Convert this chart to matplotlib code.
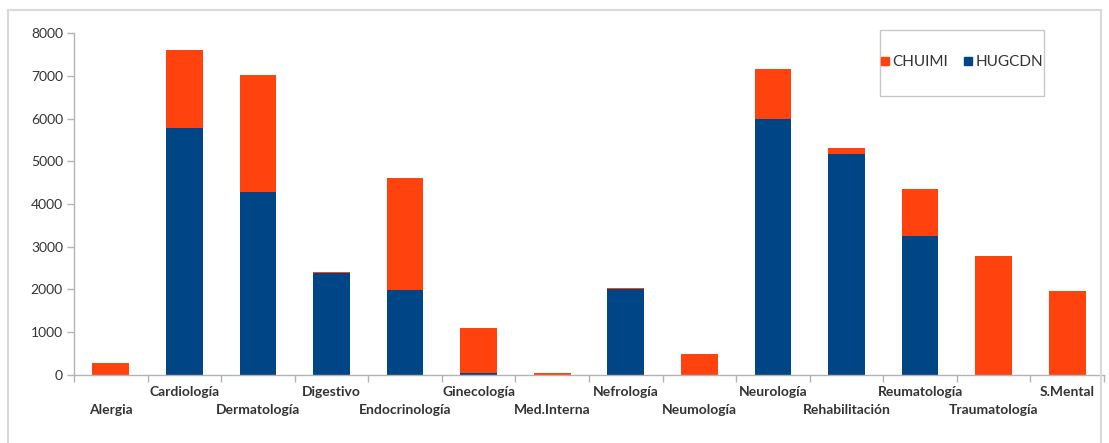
import numpy as np
import matplotlib; matplotlib.use('Agg')
import matplotlib.pyplot as plt
from matplotlib.patches import Rectangle
from matplotlib.lines import Line2D

# ── data ──
categories = ['Alergia', 'Cardiología', 'Dermatología', 'Digestivo', 'Endocrinología',
              'Ginecología', 'Med.Interna', 'Nefrología', 'Neumología', 'Neurología',
              'Rehabilitación', 'Reumatología', 'Traumatología', 'S.Mental']
hugcdn = [0, 5770, 4280, 2380, 1980, 50, 0, 2000, 0, 6000, 5160, 3260, 0, 0]
chuimi = [280, 1840, 2750, 30, 2630, 1050, 30, 30, 485, 1160, 160, 1090, 2790, 1960]

ORANGE = '#ff420e'
BLUE = '#004586'
GRID = '#b3b3b3'

plt.rcParams.update({'font.family': ['Lato', 'DejaVu Sans'], 'font.size': 10})

fig = plt.figure(figsize=(11.09, 4.43), dpi=100)
fig.patch.set_facecolor('white')
ax = fig.add_axes([74/1109, 1-374.7/443, 1030/1109, 341.4/443])

x = np.arange(len(categories))
ax.bar(x, hugcdn, width=0.5, color=BLUE, zorder=2)
ax.bar(x, chuimi, width=0.5, bottom=hugcdn, color=ORANGE, zorder=2)

ax.set_xlim(-0.5, len(categories) - 0.5)
ax.set_ylim(0, 8000)
ax.set_yticks(np.arange(0, 8001, 1000))

# ticks at the category boundaries, staggered labels at the centres
ax.set_xticks(np.arange(-0.5, len(categories)))
ax.set_xticklabels([])
ax.tick_params(axis='x', length=5, color=GRID, width=1)
ax.tick_params(axis='y', length=5, color=GRID, width=1, pad=3, labelcolor='#333333')
for i, c in enumerate(categories):
    off = -25.2 if i % 2 == 0 else -12.2
    ax.annotate(c, (i, 0), xycoords=('data', 'axes fraction'), xytext=(0, off),
                textcoords='offset points', ha='center', va='center',
                fontweight='bold', color='#333333', fontsize=10)

for s in ['top', 'right']:
    ax.spines[s].set_visible(False)
for s in ['left', 'bottom']:
    ax.spines[s].set_color(GRID); ax.spines[s].set_linewidth(1)

# legend in a separate box
handles = [Line2D([], [], ls='none', marker='s', ms=5.5, color=ORANGE),
           Line2D([], [], ls='none', marker='s', ms=5.5, color=BLUE)]
fig.legend(handles, ['CHUIMI', 'HUGCDN'], ncol=2, frameon=False,
           loc='center', bbox_to_anchor=(961/1109, 1-62/443), fontsize=11,
           handletextpad=0.1, columnspacing=0.9, handlelength=0.8, labelcolor='#333333')
fig.patches.append(Rectangle((880/1109, 1-96/443), 164/1109, 66/443, transform=fig.transFigure,
                             fill=False, ec='#c8c8c8', lw=1))
# outer chart border
fig.patches.append(Rectangle((8/1109, -0.05), 1093/1109, 1.05-10/443, transform=fig.transFigure,
                             fill=False, ec='#d9d9d9', lw=1.5))

fig.savefig('out.png', dpi=100, facecolor='white')
